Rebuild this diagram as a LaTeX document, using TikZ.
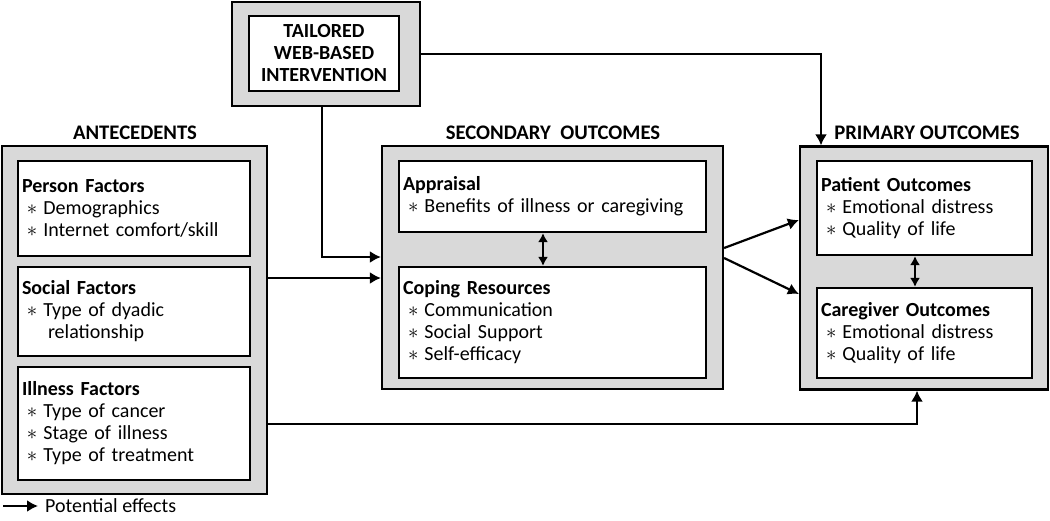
\documentclass[tikz,border=0pt]{standalone}
\usepackage{fontspec}
\setmainfont{Carlito}
\usetikzlibrary{arrows.meta, positioning}

\newcommand{\itm}{\hspace*{5pt}$\ast$\hspace{6pt}}

\begin{document}
\begin{tikzpicture}
  [
    x=1pt, y=-1pt,
    outer/.style={draw, line width=2.2pt, fill=black!15, inner sep=0pt},
    factor/.style={draw, line width=2.2pt, fill=white, align=left,
      inner xsep=4pt, inner ysep=0pt, font=\fontsize{20}{22}\selectfont},
    heading/.style={font=\fontsize{20.7}{22}\selectfont\bfseries},
    effect/.style={line width=2.2pt, -{Latex[length=11pt,width=12pt]}},
    mutual/.style={line width=2.2pt,
      {Latex[length=9pt,width=10pt]}-{Latex[length=9pt,width=10pt]}}
  ]
  \useasboundingbox (0,0) rectangle (1050,520);
  % intervention
  \node [outer, minimum width=188pt, minimum height=104pt] (interv) at (326,54) {};
  \node [factor, align=center, text width=142pt, minimum height=75pt,
    font=\fontsize{20}{22}\selectfont\bfseries] (tailored) at (324,53.5)
    {TAILORED\\WEB-BASED\\INTERVENTION};
  % antecedents
  \node [heading] (antehead) at (135,133) {ANTECEDENTS};
  \node [outer, minimum width=265pt, minimum height=348pt] (ante) at (134.5,320) {};
  \node [factor, text width=224pt, minimum height=95pt] (person) at (134,208.5)
    {\textbf{Person Factors}\\\itm Demographics\\\itm Internet comfort/skill};
  \node [factor, text width=224pt, minimum height=89pt] (social) at (134,311.5)
    {\textbf{Social Factors}\\\itm Type of dyadic\\\hspace*{26pt}relationship};
  \node [factor, text width=224pt, minimum height=113pt] (illness) at (134,423.5)
    {\textbf{Illness Factors}\\\itm Type of cancer\\\itm Stage of illness\\\itm Type of treatment};
  % secondary outcomes
  \node [heading] (sechead) at (553,133) {SECONDARY\ \ OUTCOMES};
  \node [outer, minimum width=341pt, minimum height=243pt] (sec) at (552.5,267.5) {};
  \node [factor, text width=299pt, minimum height=71pt] (appraisal) at (552.5,196.5)
    {\textbf{Appraisal}\\\itm Benefits of illness or caregiving};
  \node [factor, text width=299pt, minimum height=111pt] (coping) at (552.5,322.5)
    {\textbf{Coping Resources}\\\itm Communication\\\itm Social Support\\\itm Self-efficacy};
  % primary outcomes
  \node [heading] (primhead) at (927,133) {PRIMARY OUTCOMES};
  \node [outer, minimum width=248pt, minimum height=243pt] (prim) at (924,268) {};
  \node [factor, text width=207pt, minimum height=94pt] (patient) at (924.5,208)
    {\textbf{Patient Outcomes}\\\itm Emotional distress\\\itm Quality of life};
  \node [factor, text width=207pt, minimum height=90pt] (caregiver) at (924.5,333)
    {\textbf{Caregiver Outcomes}\\\itm Emotional distress\\\itm Quality of life};
  % potential effects
  \draw [effect] ([xshift=-4pt]interv.south) |- ([yshift=10.5pt]sec.west);
  \draw [effect] (ante.east |- 0,278) -- (sec.west |- 0,278);
  \draw [effect] (interv.east) -| ([xshift=-103pt]prim.north);
  \draw [effect] ([yshift=19.5pt]sec.east) -- ([yshift=48pt]prim.west);
  \draw [effect] ([yshift=9.5pt]sec.east) -- ([yshift=-26pt]prim.west);
  \draw [effect] ([yshift=-104pt]ante.east) -| ([xshift=-7pt]prim.south);
  \draw [mutual] ([xshift=-9.5pt]appraisal.south) -- ([xshift=-9.5pt]coping.north);
  \draw [mutual] ([xshift=-9.5pt]patient.south) -- ([xshift=-9.5pt]caregiver.north);
  % legend
  \coordinate (legstart) at (3,506);
  \node [anchor=west, inner sep=0pt, font=\fontsize{20}{22}\selectfont] (legtext) at (45,506)
    {Potential effects};
  \draw [effect] (legstart) -- ([xshift=-7pt]legtext.west);
\end{tikzpicture}
\end{document}
